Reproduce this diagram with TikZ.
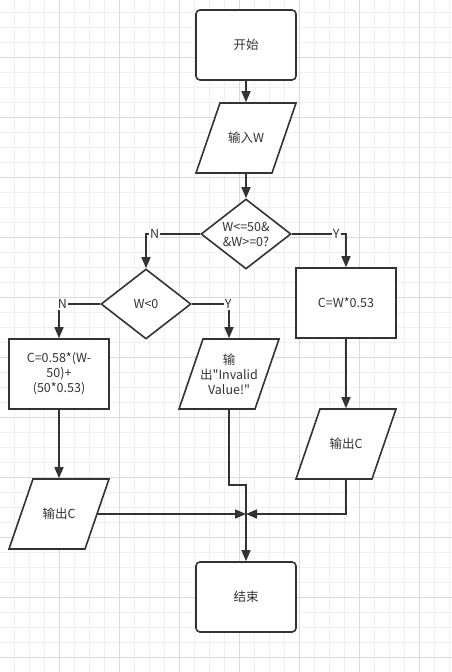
\documentclass[tikz,border=0pt]{standalone}
\usepackage{fontspec}
\setmainfont{Noto Sans CJK SC}[Ligatures=TeXOff]
\usetikzlibrary{shapes.geometric, arrows.meta, positioning, calc}
\definecolor{linegray}{HTML}{333333}
\definecolor{gridminor}{HTML}{F0F0F0}
\definecolor{gridmajor}{HTML}{DADADA}

\begin{document}
\begin{tikzpicture}[x=1pt, y=-1pt,
    base/.style={draw=linegray, line width=1.6pt, fill=white, text=linegray,
      font=\fontsize{12.5}{15}\selectfont, align=center},
    term/.style={base, rectangle, rounded corners=4pt, minimum width=100pt, minimum height=70pt},
    proc/.style={base, rectangle, minimum width=100pt, minimum height=70pt},
    io/.style={base, draw=none, fill=none, rectangle, minimum width=76pt, minimum height=70pt, inner sep=1pt},
    decide/.style={base, diamond, aspect=1.29, minimum width=90pt, minimum height=70pt, inner sep=-1pt},
    flow/.style={draw=linegray, line width=1.6pt, -{Triangle[length=11pt,width=9pt]}},
    lbl/.style={fill=white, inner sep=1pt, text=linegray, font=\fontsize{12.5}{14}\selectfont}]

  % background grid
  \useasboundingbox (0,0) rectangle (452,672);
  \fill[white] (0,0) rectangle (452,672);
  \foreach \x in {14,29,...,449} \draw[gridminor, line width=0.6pt] (\x,0) -- (\x,672);
  \foreach \y in {12,27,...,672} \draw[gridminor, line width=0.6pt] (0,\y) -- (452,\y);
  \foreach \x in {59,119,...,419} \draw[gridmajor, line width=0.7pt] (\x,0) -- (\x,672);
  \foreach \y in {57,117,...,657} \draw[gridmajor, line width=0.7pt] (0,\y) -- (452,\y);

  % parallelograms for input/output
  \foreach \cx/\cy in {246/138, 229/374, 346/444, 59/514}
    \draw[base] (\cx-26,\cy-35) -- (\cx+50,\cy-35) -- (\cx+26,\cy+35) -- (\cx-50,\cy+35) -- cycle;

  \node[term] (start) at (246,45) {开始};
  \node[io] (inp) at (246,138) {输入W};
  \node[decide] (dec1) at (246,234) {W<=50\&\\\&W>=0?};
  \node[decide] (dec2) at (146,304) {W<0};
  \node[proc] (calc1) at (346,303) {C=W*0.53};
  \node[proc] (calc2) at (59,374) {C=0.58*(W-\\50)+\\(50*0.53)};
  \node[io] (err) at (229,374) {输\\出"Invalid\\Value!"};
  \node[io] (outR) at (346,444) {输出C};
  \node[io] (outL) at (59,514) {输出C};
  \node[term] (end) at (246,597) {结束};
  \coordinate (merge) at (246,514);
  \coordinate (jog) at (246,485);

  \draw[flow] (start) -- (inp);
  \draw[flow] (inp) -- (dec1);
  \draw[flow] (dec1.west) -| node[lbl, pos=0.42] {N} (dec2.north);
  \draw[flow] (dec1.east) -| node[lbl, pos=0.41] {Y} (calc1.north);
  \draw[flow] (dec2.west) -| node[lbl, pos=0.46] {N} (calc2.north);
  \draw[flow] (dec2.east) -| node[lbl, pos=0.49] {Y} (err.north);
  \draw[flow] (calc1) -- (outR);
  \draw[flow] (calc2) -- (outL);
  \draw[flow] (err.south) |- (jog) -- (end.north);
  \draw[flow] (outL.east) -- (merge);
  \draw[flow] (outR.south) |- (merge);
\end{tikzpicture}
\end{document}
